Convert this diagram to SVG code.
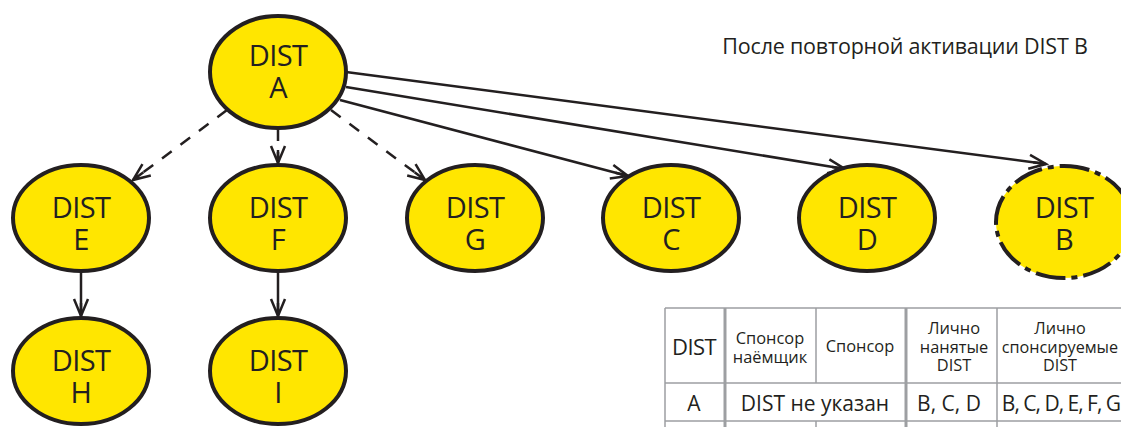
<svg xmlns="http://www.w3.org/2000/svg" width="1121" height="427" viewBox="0 0 1121 427">
<style>
.n{fill:#ffe600;stroke:#231f20;stroke-width:4}
.l{font-family:"Open Sans","Noto Sans",sans-serif;font-size:29px;fill:#231f20;text-anchor:middle;letter-spacing:-.6px}
.c{fill:none;stroke:#231f20;stroke-width:2.5}
.d{stroke-dasharray:12 11}
.t{font-family:"Open Sans","Noto Sans",sans-serif;fill:#231f20;text-anchor:middle}
.g{stroke:#9d9fa2;stroke-width:1.5;fill:none}
.G{stroke:#9d9fa2;stroke-width:3;fill:none}
</style>
<defs><marker id="a" markerUnits="userSpaceOnUse" markerWidth="24" markerHeight="20" refX="19" refY="10" orient="auto"><path d="M2 3L19 10L2 17M19 10L6 10" fill="none" stroke="#231f20" stroke-width="2.5"/></marker></defs>
<g id="connectors">
<path class="c d" marker-end="url(#a)" d="M227 110L133 180"/>
<path class="c d" marker-end="url(#a)" d="M278 129L278 163"/>
<path class="c d" marker-end="url(#a)" d="M331 110L425 180"/>
<path class="c" marker-end="url(#a)" d="M340 100L628 176"/>
<path class="c" marker-end="url(#a)" d="M346 87L845 169"/>
<path class="c" marker-end="url(#a)" d="M346 72L1046 164"/>
<path class="c" marker-end="url(#a)" d="M81 271L81 316"/>
<path class="c" marker-end="url(#a)" d="M278 271L278 316"/>
</g>
<g id="node-a"><ellipse class="n" cx="278" cy="72" rx="68" ry="56"/><text class="l" x="278" y="66">DIST</text><text class="l" x="278" y="98">A</text></g>
<g id="node-e"><ellipse class="n" cx="81" cy="218" rx="68" ry="53"/><text class="l" x="81" y="218">DIST</text><text class="l" x="81" y="250">E</text></g>
<g id="node-f"><ellipse class="n" cx="278" cy="218" rx="68" ry="53"/><text class="l" x="278" y="218">DIST</text><text class="l" x="278" y="250">F</text></g>
<g id="node-g"><ellipse class="n" cx="475" cy="218" rx="68" ry="53"/><text class="l" x="475" y="218">DIST</text><text class="l" x="475" y="250">G</text></g>
<g id="node-c"><ellipse class="n" cx="671" cy="218" rx="68" ry="53"/><text class="l" x="671" y="218">DIST</text><text class="l" x="671" y="250">C</text></g>
<g id="node-d"><ellipse class="n" cx="867" cy="218" rx="68" ry="53"/><text class="l" x="867" y="218">DIST</text><text class="l" x="867" y="250">D</text></g>
<g id="node-b"><ellipse class="n" cx="1064" cy="222" rx="68" ry="56" stroke-dasharray="30 6 6 6"/><text class="l" x="1064" y="218">DIST</text><text class="l" x="1064" y="250">B</text></g>
<g id="node-h"><ellipse class="n" cx="81" cy="371" rx="68" ry="53"/><text class="l" x="81" y="371">DIST</text><text class="l" x="81" y="403">H</text></g>
<g id="node-i"><ellipse class="n" cx="278" cy="371" rx="68" ry="53"/><text class="l" x="278" y="371">DIST</text><text class="l" x="278" y="403">I</text></g>
<text class="t" x="905" y="54" font-size="21.5" letter-spacing="-.2">После повторной активации DIST B</text>
<g id="table">
<path class="g" d="M665 308H1121M665 383H1121M665 421H1121M665 308V427M816 308V383M816 421V427M997 308V427"/>
<path class="G" d="M725 308V427M906 308V427"/>
<text class="t" x="694" y="355" font-size="22" letter-spacing="-.6">DIST</text>
<text class="t" x="770" y="344" font-size="16.4">Спонсор</text><text class="t" x="770" y="363" font-size="16.4">наёмщик</text>
<text class="t" x="860" y="352" font-size="16.4">Спонсор</text>
<text class="t" x="954" y="334" font-size="16.4">Лично</text><text class="t" x="954" y="353" font-size="16.4">нанятые</text><text class="t" x="954" y="371" font-size="16.4">DIST</text>
<text class="t" x="1060" y="334" font-size="16.2">Лично</text><text class="t" x="1060" y="353" font-size="16.2">спонсируемые</text><text class="t" x="1060" y="371" font-size="16.2">DIST</text>
<text class="t" x="694" y="411" font-size="21">A</text>
<text class="t" x="815" y="411" font-size="21">DIST не указан</text>
<text class="t" x="949" y="411" font-size="21">B, C, D</text>
<text class="t" x="1061" y="411" font-size="21" letter-spacing="-1">B, C, D, E, F, G</text>
</g>
</svg>
